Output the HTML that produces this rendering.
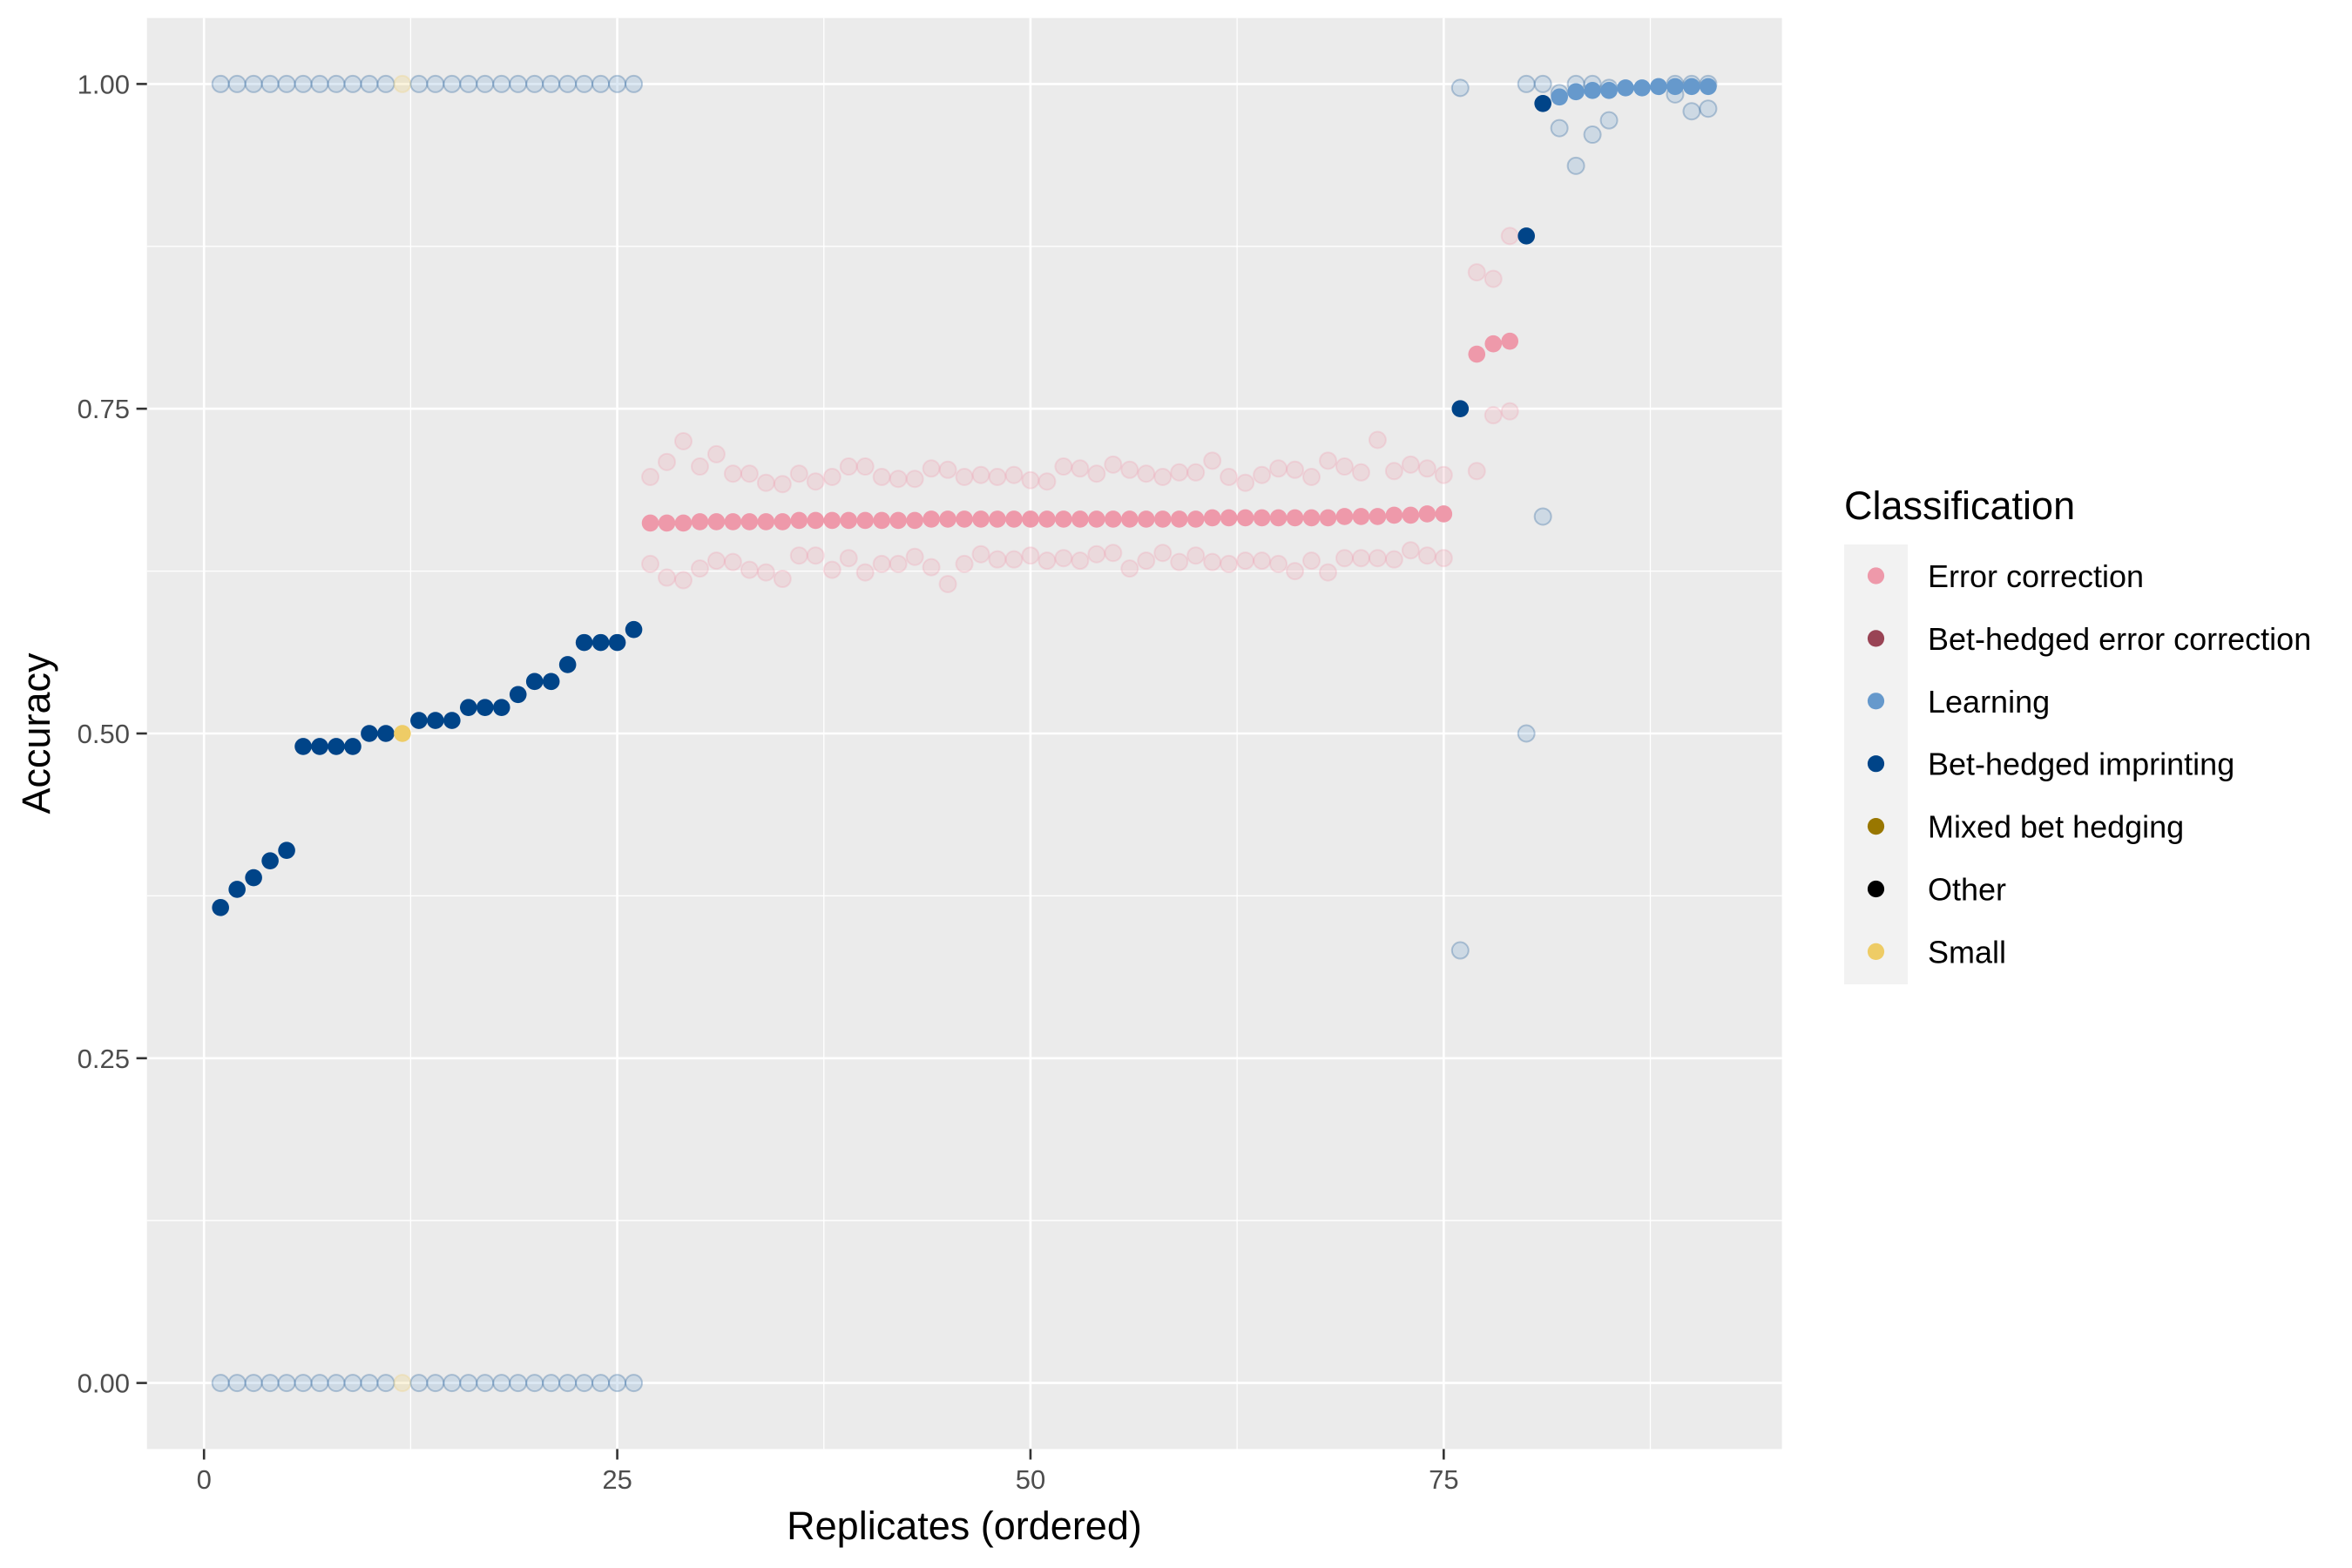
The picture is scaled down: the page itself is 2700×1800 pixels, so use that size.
<!DOCTYPE html>
<html><head><meta charset="utf-8"><style>
html,body{margin:0;padding:0;background:#fff;}
svg{display:block;font-family:"Liberation Sans",Arial,sans-serif;}
</style></head><body>
<svg id="chart" width="2700" height="1800" viewBox="0 0 2700 1800">
<rect width="2700" height="1800" fill="#fff"/>
<rect x="168.7" y="20.7" width="1876.9" height="1642.7" fill="#ebebeb"/>
<g id="grid"></g>
<g id="faint"></g>
<g id="main"></g>
<g id="axes"></g>
<g id="legend"></g>
</svg>
<script>
// ---- data ----
const imprintX = [1,2,3,4,5,6,7,8,9,10,11,13,14,15,16,17,18,19,20,21,22,23,24,25,26,76,80,81];
const imprintY = [0.366,0.38,0.389,0.402,0.41,0.49,0.49,0.49,0.49,0.50,0.50,0.51,0.51,0.51,0.52,0.52,0.52,0.53,0.54,0.54,0.553,0.57,0.57,0.57,0.58,0.75,0.883,0.985];
const smallX = [12];
const smallY = [0.50];
const ecX = [27,28,29,30,31,32,33,34,35,36,37,38,39,40,41,42,43,44,45,46,47,48,49,50,51,52,53,54,55,56,57,58,59,60,61,62,63,64,65,66,67,68,69,70,71,72,73,74,75,77,78,79];
const ecY = [0.662,0.662,0.662,0.663,0.663,0.663,0.663,0.663,0.663,0.664,0.664,0.664,0.664,0.664,0.664,0.664,0.664,0.665,0.665,0.665,0.665,0.665,0.665,0.665,0.665,0.665,0.665,0.665,0.665,0.665,0.665,0.665,0.665,0.665,0.666,0.666,0.666,0.666,0.666,0.666,0.666,0.666,0.667,0.667,0.667,0.668,0.668,0.669,0.669,0.792,0.80,0.802];
const learnX = [82,83,84,85,86,87,88,89,90,91];
const learnY = [0.99,0.994,0.995,0.995,0.997,0.997,0.998,0.998,0.998,0.998];
const ecUpper = [0.6975,0.709,0.725,0.7055,0.715,0.700,0.700,0.693,0.692,0.700,0.694,0.6975,0.7055,0.7055,0.6975,0.696,0.696,0.704,0.703,0.6975,0.699,0.6975,0.699,0.695,0.694,0.7055,0.704,0.700,0.707,0.703,0.700,0.6975,0.701,0.701,0.710,0.6975,0.693,0.699,0.704,0.703,0.6975,0.710,0.7055,0.701,0.726,0.702,0.707,0.704,0.699];
const ecLower = [0.6305,0.620,0.618,0.627,0.633,0.632,0.626,0.624,0.619,0.637,0.637,0.626,0.635,0.624,0.6305,0.6305,0.636,0.628,0.615,0.6305,0.638,0.634,0.634,0.637,0.633,0.635,0.633,0.638,0.639,0.627,0.633,0.639,0.632,0.637,0.632,0.6305,0.633,0.633,0.6305,0.625,0.633,0.624,0.635,0.635,0.635,0.634,0.641,0.637,0.635];
const ecFaintX = [77,77,78,78,79,79];
const ecFaintY = [0.855,0.702,0.85,0.745,0.883,0.748];
const blueFaintX = [76,76,80,80,81,81,82,82,83,83,84,84,85,85,89,89,90,90,91,91];
const blueFaintY = [0.997,0.333,1.0,0.50,1.0,0.667,0.966,0.993,1.0,0.937,1.0,0.961,0.997,0.972,1.0,0.992,1.0,0.979,1.0,0.981];
const xTicks = [0,25,50,75];
const yTicks = [0,0.25,0.5,0.75,1.0];
const yTickLabels = ["0.00","0.25","0.50","0.75","1.00"];
const legendLabels = ["Error correction","Bet-hedged error correction","Learning","Bet-hedged imprinting","Mixed bet hedging","Other","Small"];
const legendColors = ["#ee99aa","#994455","#6699cc","#004488","#997700","#000000","#eecc66"];

// ---- scales ----
const X0=234.2, XS=18.975, Y0=1587.6, YS=1491.2;
const sx = v => X0 + v*XS;
const sy = v => Y0 - v*YS;
const NS="http://www.w3.org/2000/svg";
function mk(tag, attrs, parent){const e=document.createElementNS(NS,tag);for(const k in attrs)e.setAttribute(k,attrs[k]);parent.appendChild(e);return e;}
const grid=document.getElementById('grid'), faint=document.getElementById('faint'), main=document.getElementById('main'), axes=document.getElementById('axes'), legend=document.getElementById('legend');

// grid
[12.5,37.5,62.5,87.5].forEach(v=>{const l=mk('line',{x1:sx(v),x2:sx(v),y1:20.7,y2:1663.4,stroke:'#fff','stroke-width':1.3},grid);

});
[0.125,0.375,0.625,0.875].forEach(v=>{const l=mk('line',{x1:168.7,x2:2045.6,y1:sy(v),y2:sy(v),stroke:'#fff','stroke-width':1.3},grid);

});
xTicks.forEach(v=>{const l=mk('line',{x1:sx(v),x2:sx(v),y1:20.7,y2:1663.4,stroke:'#fff','stroke-width':2.6},grid);


const t=mk('line',{x1:sx(v),x2:sx(v),y1:1663.4,y2:1675.5,stroke:'#333','stroke-width':2.6},axes);


const tx=mk('text',{x:sx(v),y:1709,'font-size':31,fill:'#4d4d4d','text-anchor':'middle'},axes);tx.textContent=v;

});
yTicks.forEach((v,i)=>{const l=mk('line',{x1:168.7,x2:2045.6,y1:sy(v),y2:sy(v),stroke:'#fff','stroke-width':2.6},grid);


const t=mk('line',{x1:156.6,x2:168.7,y1:sy(v),y2:sy(v),stroke:'#333','stroke-width':2.6},axes);


const tx=mk('text',{x:149,y:sy(v)+11,'font-size':31,fill:'#4d4d4d','text-anchor':'end'},axes);tx.textContent=yTickLabels[i];

});

// axis titles
const xt=mk('text',{x:1107,y:1767,'font-size':45,fill:'#000','text-anchor':'middle'},axes);xt.textContent='Replicates (ordered)';


const yt=mk('text',{x:0,y:0,'font-size':45,fill:'#000','text-anchor':'middle',transform:'translate(57,842) rotate(-90)'},axes);yt.textContent='Accuracy';



// faint points
function faintPt(x,y,col,stroke,name){const c=mk('circle',{cx:sx(x),cy:sy(y),r:9.5,fill:col,'fill-opacity':0.22,stroke:stroke,'stroke-opacity':0.25,'stroke-width':2},faint);

}
for(let i=1;i<=26;i++){const col=i===12?'#eecc66':'#6699cc';const st=i===12?'#eecc66':'#004488';
faintPt(i,1.0,col,st,'faint-upper-point');faintPt(i,0.0,col,st,'faint-lower-point');}
ecUpper.forEach((v,i)=>faintPt(27+i,v,'#ee99aa','#ee99aa','ec-faint-upper-point'));
ecLower.forEach((v,i)=>faintPt(27+i,v,'#ee99aa','#ee99aa','ec-faint-lower-point'));
ecFaintX.forEach((x,i)=>faintPt(x,ecFaintY[i],'#ee99aa','#ee99aa','ec-faint-point'));
blueFaintX.forEach((x,i)=>faintPt(x,blueFaintY[i],'#6699cc','#004488','learning-faint-point'));

// main points
function pt(x,y,col,name){const c=mk('circle',{cx:sx(x),cy:sy(y),r:9.8,fill:col},main);

}
ecX.forEach((x,i)=>pt(x,ecY[i],'#ee99aa','error-correction-point'));
learnX.forEach((x,i)=>pt(x,learnY[i],'#6699cc','learning-point'));
imprintX.forEach((x,i)=>pt(x,imprintY[i],'#004488','bet-hedged-imprinting-point'));
smallX.forEach((x,i)=>pt(x,smallY[i],'#eecc66','small-point'));

// legend
const lt=mk('text',{x:2117,y:596,'font-size':45,fill:'#000'},legend);lt.textContent='Classification';


const kb=mk('rect',{x:2117,y:625,width:73,height:505,fill:'#f2f2f2'},legend);


legendLabels.forEach((lab,i)=>{const cy=661+i*71.9;
const c=mk('circle',{cx:2153.5,cy:cy,r:9.6,fill:legendColors[i]},legend);


const t=mk('text',{x:2213,y:cy+13,'font-size':36,fill:'#000'},legend);t.textContent=lab;

});
</script>
</body></html>
